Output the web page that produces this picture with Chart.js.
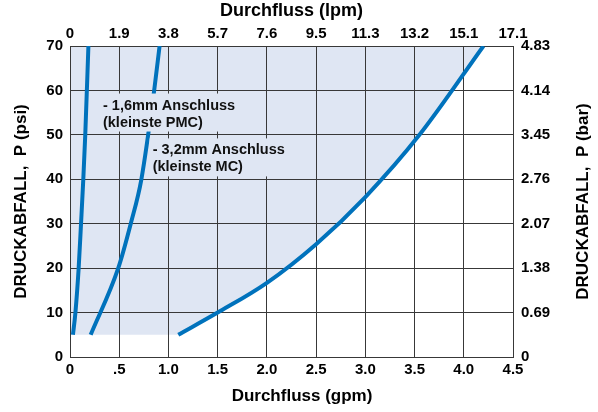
<!DOCTYPE html>
<html>
<head>
<meta charset="utf-8">
<script src="https://cdn.jsdelivr.net/npm/chart.js@4/dist/chart.umd.min.js"></script>
<style>
html,body{margin:0;padding:0;background:#fff;}
#wrap{width:598px;height:412px;position:relative;}
</style>
</head>
<body>
<div id="wrap"><canvas id="c"></canvas></div>
<script>
// ---- data ----
const gpmTicks = [0, 0.5, 1, 1.5, 2, 2.5, 3, 3.5, 4, 4.5];
const gpmLabels = ['0', '.5', '1.0', '1.5', '2.0', '2.5', '3.0', '3.5', '4.0', '4.5'];
const lpmLabels = ['0', '1.9', '3.8', '5.7', '7.6', '9.5', '11.3', '13.2', '15.1', '17.1'];
const psiTicks = [0, 10, 20, 30, 40, 50, 60, 70];
const psiLabels = ['0', '10', '20', '30', '40', '50', '60', '70'];
const barLabels = ['0', '0.69', '1.38', '2.07', '2.76', '3.45', '4.14', '4.83'];

const port16Gpm = [0.03, 0.055, 0.088, 0.112, 0.135, 0.155, 0.187];
const port16Psi = [5, 10, 20, 30, 40, 50, 70];
const port32Gpm = [0.21, 0.49, 0.617, 0.725, 0.855, 0.91];
const port32Psi = [5, 20, 30, 40, 60, 70];
const limitGpm = [1.1, 1.5, 2.0, 2.5, 3.0, 3.55, 4.2];
const limitPsi = [5, 10, 16.7, 25.4, 36, 50, 70];
const shadeFloorPsi = 5;

const label16 = ['- 1,6mm Anschluss', '(kleinste PMC)'];
const label32 = ['- 3,2mm Anschluss', '(kleinste MC)'];
const label16Anchor = [0.335, 56.6];   // gpm, psi
const label32Anchor = [0.84, 46.5];
const xTitle = 'Durchfluss (gpm)';
const y2Title = 'DRUCKABFALL,  P (bar)';

// ---- styles ----
const FONT = '"Liberation Sans", Arial, Helvetica, sans-serif';
const BLUE = '#0072bc';
const SHADE = '#dfe6f3';
const GRID = '#383838';

Chart.defaults.font.family = FONT;
Chart.defaults.color = '#000';
Chart.defaults.animation = false;

const pts = (xs, ys) => xs.map((v, i) => ({x: v, y: ys[i]}));

const lineDs = (data) => ({
  data, showLine: true, borderColor: BLUE, borderWidth: 4, pointRadius: 0,
  pointHoverRadius: 0, fill: false, cubicInterpolationMode: 'monotone', borderCapStyle: 'butt'
});

const overlay = {
  id: 'overlay',
  beforeDraw(chart) {
    const {ctx, scales: {x, y}} = chart;
    const meta = chart.getDatasetMeta(2);
    meta.dataset.updateControlPoints(chart.chartArea, 'x');
    const p = meta.data;
    ctx.save();
    ctx.beginPath();
    ctx.moveTo(x.getPixelForValue(x.min), y.getPixelForValue(y.max));
    ctx.lineTo(x.getPixelForValue(x.min), y.getPixelForValue(shadeFloorPsi));
    ctx.lineTo(p[0].x, p[0].y);
    for (let i = 1; i < p.length; i++) {
      const a = p[i - 1], b = p[i];
      ctx.bezierCurveTo(a.cp2x, a.cp2y, b.cp1x, b.cp1y, b.x, b.y);
    }
    ctx.closePath();
    ctx.fillStyle = SHADE;
    ctx.fill();
    ctx.restore();
  },
  afterDraw(chart) {
    const {ctx, scales: {x, y}} = chart;
    ctx.save();
    ctx.font = 'bold 14.5px ' + FONT;
    ctx.textBaseline = 'middle';
    ctx.textAlign = 'left';
    const drawLabel = (lines, anchor) => {
      const lx = x.getPixelForValue(anchor[0]);
      const ly = y.getPixelForValue(anchor[1]);
      const lh = 17;
      const w = Math.max(...lines.map(t => ctx.measureText(t).width));
      ctx.fillStyle = SHADE;
      ctx.fillRect(lx - 3, ly - 12, w + 6, lh * (lines.length - 1) + 21);
      ctx.fillStyle = '#111';
      lines.forEach((t, i) => ctx.fillText(t, lx, ly + i * lh));
    };
    drawLabel(label16, label16Anchor);
    drawLabel(label32, label32Anchor);

    // bottom axis title (slightly right of the plot centre, as in the source)
    ctx.font = 'bold 17px ' + FONT;
    ctx.fillStyle = '#000';
    ctx.textAlign = 'center';
    ctx.fillText(xTitle, 302, 396);

    // right axis title (reads bottom-to-top like the left one)
    const y2 = chart.scales.y2;
    ctx.translate(583.5, (y2.top + y2.bottom) / 2);
    ctx.rotate(-Math.PI / 2);
    ctx.fillText(y2Title, 0, 0);
    ctx.restore();
  }
};

const tickFont = {size: 15, weight: 'bold'};

new Chart(document.getElementById('c'), {
  type: 'scatter',
  data: {
    datasets: [
      lineDs(pts(port16Gpm, port16Psi)),
      lineDs(pts(port32Gpm, port32Psi)),
      lineDs(pts(limitGpm, limitPsi))
    ]
  },
  options: {
    responsive: true,
    maintainAspectRatio: false,
    animation: false,
    layout: {padding: 0},
    plugins: {legend: {display: false}, tooltip: {enabled: false}},
    scales: {
      x: {
        type: 'linear', position: 'bottom', min: 0, max: 4.5,
        afterBuildTicks(s) { s.ticks = gpmTicks.map(v => ({value: v})); },
        ticks: {autoSkip: false, maxRotation: 0, padding: 4, color: '#000', font: tickFont,
                callback: (v, i) => gpmLabels[i]},
        grid: {color: GRID, lineWidth: 1, drawTicks: false},
        border: {color: GRID, width: 1},
        title: {display: false},
        afterFit(s) { s.height = 55; }
      },
      x2: {
        type: 'linear', position: 'top', min: 0, max: 4.5,
        afterBuildTicks(s) { s.ticks = gpmTicks.map(v => ({value: v})); },
        ticks: {autoSkip: false, maxRotation: 0, padding: 3, color: '#000', font: tickFont,
                callback: (v, i) => lpmLabels[i]},
        grid: {display: false, drawTicks: false},
        border: {display: true, color: GRID, width: 1},
        title: {display: true, text: 'Durchfluss (lpm)', color: '#000',
                font: {size: 18, weight: 'bold'}, padding: {top: 0, bottom: 0}},
        afterFit(s) { s.height = 46; }
      },
      y: {
        type: 'linear', position: 'left', min: 0, max: 70,
        afterBuildTicks(s) { s.ticks = psiTicks.map(v => ({value: v})); },
        ticks: {autoSkip: false, padding: 7, color: '#000', font: tickFont,
                callback: (v, i) => psiLabels[i]},
        grid: {color: GRID, lineWidth: 1, drawTicks: false},
        border: {color: GRID, width: 1},
        title: {display: true, text: 'DRUCKABFALL,  P (psi)', color: '#000',
                font: {size: 17, weight: 'bold'}, padding: {top: 11, bottom: 0}},
        afterFit(s) { s.width = 70; }
      },
      y2: {
        type: 'linear', position: 'right', min: 0, max: 70,
        afterBuildTicks(s) { s.ticks = psiTicks.map(v => ({value: v})); },
        ticks: {autoSkip: false, padding: 8, color: '#000', font: tickFont,
                callback: (v, i) => barLabels[i]},
        grid: {display: false, drawTicks: false},
        border: {display: true, color: GRID, width: 1},
        title: {display: false},
        afterFit(s) { s.width = 85; }
      }
    }
  },
  plugins: [overlay]
});
</script>
</body>
</html>
